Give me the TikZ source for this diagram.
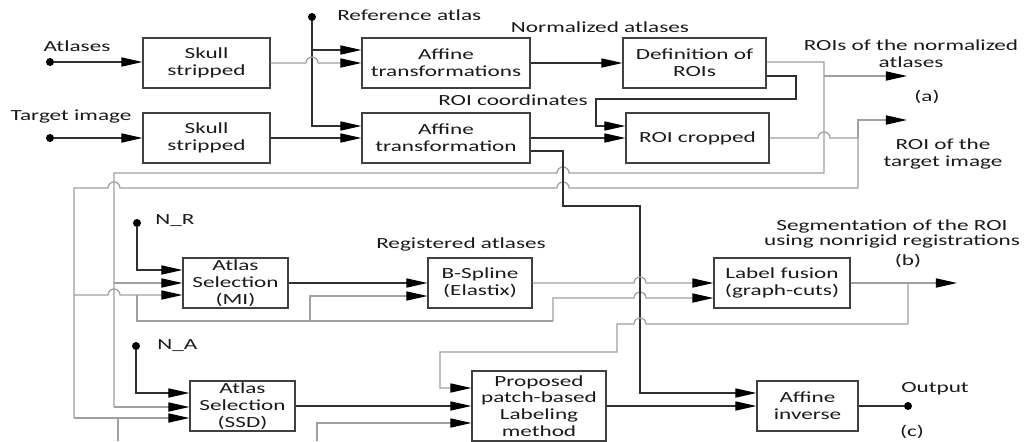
\documentclass[tikz,border=0pt]{standalone}
\usepackage{fontspec}
\setmainfont[FakeStretch=1.5]{Carlito}
\usetikzlibrary{arrows.meta}
\definecolor{lineblack}{HTML}{303030}
\definecolor{linegray}{HTML}{A0A0A0}
\definecolor{boxline}{HTML}{404040}
\definecolor{txt}{HTML}{1A1A1A}
\begin{document}
\begin{tikzpicture}[x=0.025cm,y=-0.025cm,>={Triangle[length=15pt,width=6.5pt,black]},
    font=\fontsize{11}{12}\selectfont, text=txt]
  \tikzset{box/.style={draw=boxline, line width=0.8pt, minimum height=1.25cm, align=center, inner sep=0pt},
    wire/.style={draw=lineblack, line width=0.9pt},
    wiregray/.style={draw=linegray, line width=0.9pt},
    dot/.style={circle, fill=black, inner sep=0pt, minimum size=2mm},
    lbl/.style={inner sep=0pt, align=center}}
  \useasboundingbox (0,0) rectangle (1024,441);
  % boxes
  \node[box, minimum width=3.175cm] (sk1) at (206.5,63) {Skull\\stripped};
  \node[box, minimum width=3.175cm] (sk2) at (206.5,138) {Skull\\stripped};
  \node[box, minimum width=4.2cm] (aff1) at (446,63) {Affine\\transformations};
  \node[box, minimum width=4.2cm] (aff2) at (446,138) {Affine\\transformation};
  \node[box, minimum width=3.575cm] (defr) at (694.5,63) {Definition of\\ROIs};
  \node[box, minimum width=3.575cm] (roic) at (697.5,138) {ROI cropped};
  \node[box, minimum width=2.625cm] (asmi) at (235.5,283) {Atlas\\Selection\\(MI)};
  \node[box, minimum width=2.6cm] (bsp) at (480,283) {B-Spline\\(Elastix)};
  \node[box, minimum width=3.4cm] (lf) at (782,283) {Label fusion\\(graph-cuts)};
  \node[box, minimum width=2.625cm] (asssd) at (242.5,406) {Atlas\\Selection\\(SSD)};
  \node[box, minimum width=3.35cm, minimum height=1.75cm] (prop) at (539,406) {Proposed\\patch-based\\Labeling\\method};
  \node[box, minimum width=2.525cm] (ainv) at (807.5,406) {Affine\\inverse};
  % inputs and output
  \node[dot] (atl) at (50,62) {};
  \node[dot] (tgt) at (50,138) {};
  \node[dot] (ref) at (312,17) {};
  \node[dot] (nr) at (137,223) {};
  \node[dot] (na) at (136,346) {};
  \node[dot] (out) at (908,406) {};
  % labels
  \node[lbl] at (77,46) {Atlases};
  \node[lbl] at (71,117) {Target image};
  \node[lbl, anchor=west] at (337,15) {Reference atlas};
  \node[lbl] at (600,27) {Normalized atlases};
  \node[lbl] at (911,54) {ROIs of the normalized\\atlases};
  \node[lbl] at (927,97) {(a)};
  \node[lbl] at (513,100) {ROI coordinates};
  \node[lbl] at (943,154) {ROI of the\\target image};
  \node[lbl, anchor=west] at (155,221) {N\_R};
  \node[lbl] at (461,244) {Registered atlases};
  \node[lbl, font=\fontsize{11}{10.5}\selectfont] at (892,234) {Segmentation of the ROI\\using nonrigid registrations};
  \node[lbl] at (908,261) {(b)};
  \node[lbl, anchor=west] at (157,346) {N\_A};
  \node[lbl] at (935,389) {Output};
  \node[lbl] at (912,432) {(c)};
  % top row
  \draw[wire,->] (atl) -- (atl -| sk1.west);
  \draw[wire,->] (tgt) -- (tgt -| sk2.west);
  \coordinate (r1) at (312,50);
  \coordinate (r2) at (312,126);
  \draw[wire,->] (ref) -- (r2) -- (r2 -| aff2.west);
  \draw[wire,->] (r1) -- (r1 -| aff1.west);
  \draw[wiregray,->] (sk1.east) -- (306,63) arc[start angle=180,end angle=360,radius=6] -- (aff1.west);
  \draw[wire,->] (sk2.east) -- (aff2.west);
  \draw[wire,->] (aff1.east) -- (defr.west);
  \draw[wire,->] (aff2.east) -- (roic.west);
  % ROI coordinates
  \coordinate (c0) at (796,76);
  \coordinate (c1) at (596,99);
  \coordinate (c2) at (596,126);
  \draw[wire,->] (defr.east |- c0) -- (c0) |- (c1) -- (c2) -- (c2 -| roic.west);
  % ROIs of the normalized atlases
  \coordinate (n0) at (824,62);
  \coordinate (n1) at (824,76);
  \coordinate (n2) at (114,173);
  \coordinate (n3) at (114,283);
  \coordinate (n4) at (114,407);
  \coordinate (oa) at (907,76);
  \draw[wiregray] (defr.east |- n0) -- (n0) -- (824,173) -- (569,173) arc[start angle=0,end angle=-180,radius=6] -- (n2) -- (n4);
  \draw[wiregray,->] (n4) -- (n4 -| asssd.west);
  \draw[wiregray,->] (n3) -- (n3 -| asmi.west);
  \draw[wiregray,->] (n1) -- (oa);
  % ROI of the target image
  \coordinate (t0) at (858,138);
  \coordinate (t1) at (858,120);
  \coordinate (ot) at (907,120);
  \coordinate (t2) at (74,188);
  \coordinate (t3) at (74,295);
  \coordinate (t4) at (137,295);
  \coordinate (t5) at (137,321);
  \coordinate (t6) at (310,321);
  \coordinate (t6b) at (310,296);
  \coordinate (t7) at (553,321);
  \coordinate (t8) at (553,298);
  \coordinate (t9) at (74,418);
  \coordinate (t10) at (118,418);
  \coordinate (t11) at (317,423);
  \draw[wiregray] (roic.east) -- (818,138) arc[start angle=180,end angle=360,radius=6] -- (t0);
  \draw[wiregray,->] (t0) -- (t1) -- (ot);
  \draw[wiregray] (t0) -- (858,188) -- (569,188) arc[start angle=0,end angle=-180,radius=6] -- (120,188) arc[start angle=0,end angle=-180,radius=6] -- (t2) -- (t9);
  \draw[wiregray,->] (t3) -- (108,295) arc[start angle=180,end angle=360,radius=6] -- (t3 -| asmi.west);
  \draw[wiregray] (t4) -- (t5) -- (t7);
  \draw[wiregray,->] (t6) -- (t6b) -- (t6b -| bsp.west);
  \draw[wiregray,->] (t7) -- (t8) -- (634,298) arc[start angle=180,end angle=360,radius=6] -- (t8 -| lf.west);
  \draw[wiregray,->] (t9) -- (t9 -| asssd.west);
  \draw[wiregray] (t10) -- (118,441);
  \draw[wiregray,->] (317,441) -- (t11) -- (t11 -| prop.west);
  % affine transform to the inverse
  \coordinate (a0) at (563,151);
  \coordinate (a1) at (640,206);
  \coordinate (a2) at (640,393);
  \draw[wire,->] (aff2.east |- a0) -- (a0) |- (a1) -- (a2) -- (a2 -| ainv.west);
  % nonrigid branch
  \coordinate (nr1) at (137,270);
  \draw[wire,->] (nr) -- (nr1) -- (nr1 -| asmi.west);
  \draw[wire,->] (asmi.east) -- (bsp.west);
  \draw[wiregray,->] (bsp.east) -- (634,283) arc[start angle=180,end angle=360,radius=6] -- (lf.west);
  \coordinate (l0) at (908,283);
  \coordinate (ob) at (957,283);
  \coordinate (l1) at (908,324);
  \coordinate (l2) at (617,352);
  \coordinate (l3) at (440,388);
  \draw[wiregray,->] (lf.east) -- (ob);
  \draw[wiregray,->] (l0) -- (l1) -- (646,324) arc[start angle=0,end angle=-180,radius=6] -- (617,324) -- (l2) -| (l3) -- (l3 -| prop.west);
  % patch-based branch
  \coordinate (na1) at (136,393);
  \draw[wire,->] (na) -- (na1) -- (na1 -| asssd.west);
  \draw[wire,->] (asssd.east) -- (prop.west);
  \draw[wire,->] (prop.east) -- (ainv.west);
  \draw[wire] (ainv.east) -- (out);
\end{tikzpicture}
\end{document}
